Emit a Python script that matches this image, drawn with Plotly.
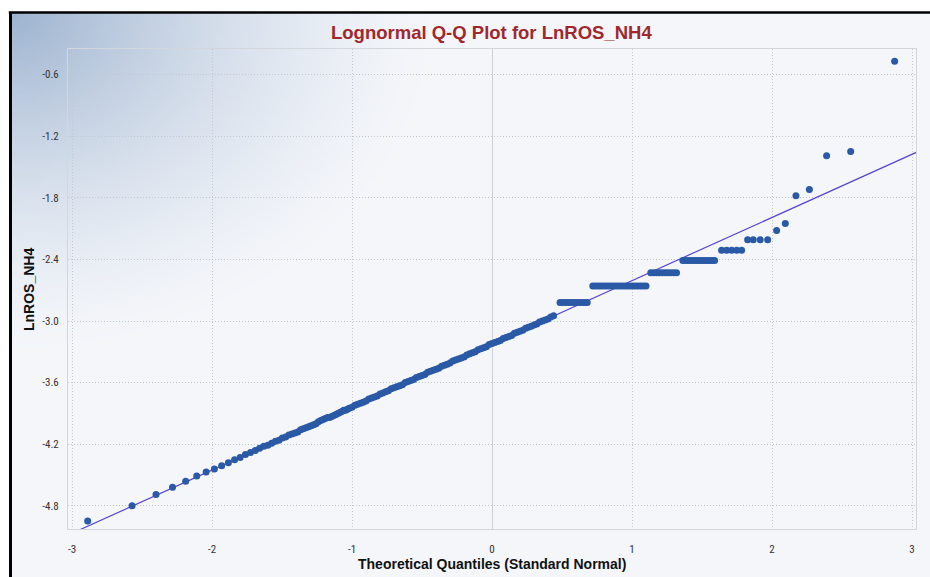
import base64, struct, zlib
import plotly.graph_objects as go

# ---------------- data ----------------
lower_tail_x = [-2.888, -2.571, -2.40, -2.282, -2.188, -2.109, -2.042, -1.983, -1.931,
                -1.883, -1.839, -1.799, -1.761, -1.725, -1.691, -1.660, -1.630, -1.601]
lower_tail_y = [-4.947, -4.80, -4.69, -4.62, -4.56, -4.51, -4.47, -4.44, -4.41,
                -4.38, -4.35, -4.33, -4.30, -4.28, -4.26, -4.24, -4.22, -4.21]

lower_band_x = [-1.574, -1.547, -1.522, -1.498, -1.474, -1.451, -1.429, -1.408, -1.387,
                -1.367, -1.348, -1.329, -1.310, -1.292, -1.274, -1.257, -1.240, -1.223,
                -1.207, -1.191, -1.175, -1.160, -1.145, -1.130, -1.115, -1.101, -1.087,
                -1.073, -1.059, -1.046, -1.033, -1.020]
lower_band_y = [-4.19, -4.17, -4.16, -4.14, -4.13, -4.11, -4.10, -4.09, -4.08,
                -4.06, -4.05, -4.04, -4.03, -4.02, -4.01, -4.00, -3.98, -3.97,
                -3.96, -3.95, -3.94, -3.94, -3.93, -3.92, -3.91, -3.90, -3.89,
                -3.88, -3.87, -3.87, -3.86, -3.85]

central_x = [-1.00, -0.98, -0.96, -0.94, -0.92, -0.90, -0.88, -0.86, -0.84, -0.82,
             -0.80, -0.78, -0.76, -0.74, -0.72, -0.70, -0.68, -0.66, -0.64, -0.62,
             -0.60, -0.58, -0.56, -0.54, -0.52, -0.50, -0.48, -0.46, -0.44, -0.42,
             -0.40, -0.38, -0.36, -0.34, -0.32, -0.30, -0.28, -0.26, -0.24, -0.22,
             -0.20, -0.18, -0.16, -0.14, -0.12, -0.10, -0.08, -0.06, -0.04, -0.02,
             0.00, 0.02, 0.04, 0.06, 0.08, 0.10, 0.12, 0.14, 0.16, 0.18,
             0.20, 0.22, 0.24, 0.26, 0.28, 0.30, 0.32, 0.34, 0.36, 0.38,
             0.40, 0.42, 0.44]
central_y = [-3.84, -3.82, -3.81, -3.80, -3.79, -3.78, -3.76, -3.75, -3.74, -3.73,
             -3.71, -3.70, -3.69, -3.68, -3.66, -3.65, -3.64, -3.63, -3.62, -3.60,
             -3.59, -3.58, -3.57, -3.55, -3.54, -3.53, -3.52, -3.50, -3.49, -3.48,
             -3.47, -3.46, -3.44, -3.43, -3.42, -3.41, -3.39, -3.38, -3.37, -3.36,
             -3.35, -3.33, -3.32, -3.31, -3.30, -3.28, -3.27, -3.26, -3.25, -3.23,
             -3.22, -3.21, -3.20, -3.19, -3.17, -3.16, -3.15, -3.14, -3.12, -3.11,
             -3.10, -3.09, -3.07, -3.06, -3.05, -3.04, -3.03, -3.01, -3.00, -2.99,
             -2.98, -2.96, -2.95]

# tied observations (rows of equal values)
tie_levels = [-2.82, -2.66, -2.53, -2.41, -2.31, -2.21]
tie_row_a = [0.486, 0.505, 0.525, 0.545, 0.565, 0.585, 0.605, 0.625, 0.645, 0.665, 0.680]
tie_row_b = [0.72, 0.74, 0.76, 0.78, 0.80, 0.82, 0.84, 0.86, 0.88, 0.90,
             0.92, 0.94, 0.96, 0.98, 1.00, 1.02, 1.04, 1.06, 1.08, 1.10]
tie_row_c = [1.134, 1.155, 1.175, 1.195, 1.215, 1.235, 1.255, 1.275, 1.297, 1.318]
tie_row_d = [1.363, 1.383, 1.402, 1.421, 1.440, 1.459, 1.478, 1.497, 1.516, 1.535,
             1.554, 1.572, 1.590]
tie_row_e = [1.640, 1.676, 1.712, 1.748, 1.783]
tie_row_f = [1.826, 1.866, 1.916, 1.969]

upper_tail_x = [2.033, 2.095, 2.171, 2.267, 2.390, 2.562, 2.876]
upper_tail_y = [-2.12, -2.05, -1.78, -1.72, -1.39, -1.35, -0.47]

# reference (fitted) line
fit_intercept = -3.222
fit_slope = 0.615
fit_x = [-3.1, 3.1]

x_tick_vals = [-3, -2, -1, 0, 1, 2, 3]
x_tick_text = ["-3", "-2", "-1", "0", "1", "2", "3"]
y_tick_vals = [-0.6, -1.2, -1.8, -2.4, -3.0, -3.6, -4.2, -4.8]
y_tick_text = ["-0.6", "-1.2", "-1.8", "-2.4", "-3.0", "-3.6", "-4.2", "-4.8"]

# ---------------- assemble ----------------
tie_rows = [tie_row_a, tie_row_b, tie_row_c, tie_row_d, tie_row_e, tie_row_f]
pts_x = lower_tail_x + lower_band_x + central_x
pts_y = lower_tail_y + lower_band_y + central_y
for lvl, row in zip(tie_levels, tie_rows):
    pts_x += row
    pts_y += [lvl] * len(row)
pts_x += upper_tail_x
pts_y += upper_tail_y
fit_y = [fit_intercept + fit_slope * v for v in fit_x]

# ---------------- background gradient image ----------------
W, H = 930, 577
PL, PR, PT, PB = 68, 916, 49, 529
PW, PH = PR - PL, PB - PT


def px2paper(px, py):
    return (px - PL) / PW, (PB - py) / PH


def make_png(w, h, fn):
    raw = bytearray()
    for j in range(h):
        raw.append(0)
        for i in range(w):
            raw.extend(fn(i, j))
    def chunk(t, d):
        c = struct.pack(">I", len(d)) + t + d
        return c + struct.pack(">I", zlib.crc32(t + d) & 0xffffffff)
    png = b"\x89PNG\r\n\x1a\n"
    png += chunk(b"IHDR", struct.pack(">IIBBBBB", w, h, 8, 2, 0, 0, 0))
    png += chunk(b"IDAT", zlib.compress(bytes(raw), 9))
    png += chunk(b"IEND", b"")
    return "data:image/png;base64," + base64.b64encode(png).decode()


SC = 4
IW, IH = (W - 10) // SC, (H - 13) // SC
corner = (158, 180, 208)
base = (244, 246, 250)


def grad(i, j):
    dx, dy = i * SC, j * SC
    t = ((dx / 430.0) ** 2 + (dy / 340.0) ** 2) ** 0.5
    f = max(0.0, 1.0 - t) ** 1.5
    return tuple(int(round(b + (c - b) * f)) for c, b in zip(corner, base))


bg_src = make_png(IW, IH, grad)
img_x, img_y = px2paper(10, 13)

fig = go.Figure()
fig.add_trace(go.Scatter(x=fit_x, y=fit_y, mode="lines",
                         line=dict(color="#5547d2", width=1.2),
                         hoverinfo="skip", showlegend=False))
fig.add_trace(go.Scatter(x=pts_x, y=pts_y, mode="markers",
                         marker=dict(color="#2a59a6", size=7, line=dict(width=0)),
                         showlegend=False))

narrow = "Liberation Sans Narrow, Arial Narrow, Roboto Condensed, Liberation Sans, Arial, sans-serif"
regular = "Liberation Sans, Arial, sans-serif"

fig.add_layout_image(dict(source=bg_src, xref="paper", yref="paper",
                          x=img_x, y=img_y, sizex=(W - 10) / PW, sizey=(H - 13) / PH,
                          xanchor="left", yanchor="top", sizing="stretch", layer="below"))

# outer black frame (left and top edges)
lx0, ly0 = px2paper(10.5, 578)
lx1, ly1 = px2paper(10.5, 12.5)
rx1, _ = px2paper(931, 12.5)
fig.add_shape(type="line", xref="paper", yref="paper", x0=lx0, y0=ly0, x1=lx1, y1=ly1,
              line=dict(color="#000000", width=3))
fig.add_shape(type="line", xref="paper", yref="paper", x0=lx1 - 0.002, y0=ly1, x1=rx1, y1=ly1,
              line=dict(color="#000000", width=2.5))

tx, ty = px2paper(491, 32)
fig.add_annotation(text="<b>Lognormal Q-Q Plot for LnROS_NH4</b>", xref="paper", yref="paper",
                   x=tx, y=ty, xanchor="center", yanchor="middle", showarrow=False,
                   font=dict(family=regular, size=18.5, color="#a0282d"))
ax_x, ax_y = px2paper(492, 564)
fig.add_annotation(text="<b>Theoretical Quantiles (Standard Normal)</b>", xref="paper", yref="paper",
                   x=ax_x, y=ax_y, xanchor="center", yanchor="middle", showarrow=False,
                   font=dict(family=regular, size=14, color="#111111"))
ay_x, ay_y = px2paper(29, 290)
fig.add_annotation(text="<b>LnROS_NH4</b>", xref="paper", yref="paper", textangle=-90,
                   x=ay_x, y=ay_y, xanchor="center", yanchor="middle", showarrow=False,
                   font=dict(family=regular, size=14, color="#111111"))

x_lo = (PL - 492) / 140.0
x_hi = (PR - 492) / 140.0
y_hi = -3.0 + (321 - PT) / 102.7
y_lo = -3.0 - (PB - 321) / 102.7

fig.update_xaxes(range=[x_lo, x_hi], tickvals=x_tick_vals, ticktext=x_tick_text,
                 showgrid=True, gridcolor="#c4c8ce", griddash="1px,2px", gridwidth=1,
                 zeroline=True, zerolinecolor="#cdd1d7", zerolinewidth=1,
                 showline=True, mirror=True, linecolor="#d3d7dc", linewidth=1,
                 ticks="", ticklabelstandoff=10,
                 tickfont=dict(family=narrow, size=11, color="#333333"))
fig.update_yaxes(range=[y_lo, y_hi], tickvals=y_tick_vals, ticktext=y_tick_text,
                 showgrid=True, gridcolor="#c4c8ce", griddash="1px,2px", gridwidth=1,
                 zeroline=False,
                 showline=True, mirror=True, linecolor="#d3d7dc", linewidth=1,
                 ticks="", ticklabelstandoff=6,
                 tickfont=dict(family=narrow, size=11, color="#333333"))

fig.update_layout(width=W, height=H, margin=dict(l=PL, r=W - PR, t=PT, b=H - PB),
                  paper_bgcolor="#ffffff", plot_bgcolor="rgba(0,0,0,0)",
                  showlegend=False)

fig.write_html("out.html", config={"displayModeBar": False},
               post_script="document.body.style.margin='0';document.body.style.padding='0';"
                           "document.body.style.overflow='hidden';")
